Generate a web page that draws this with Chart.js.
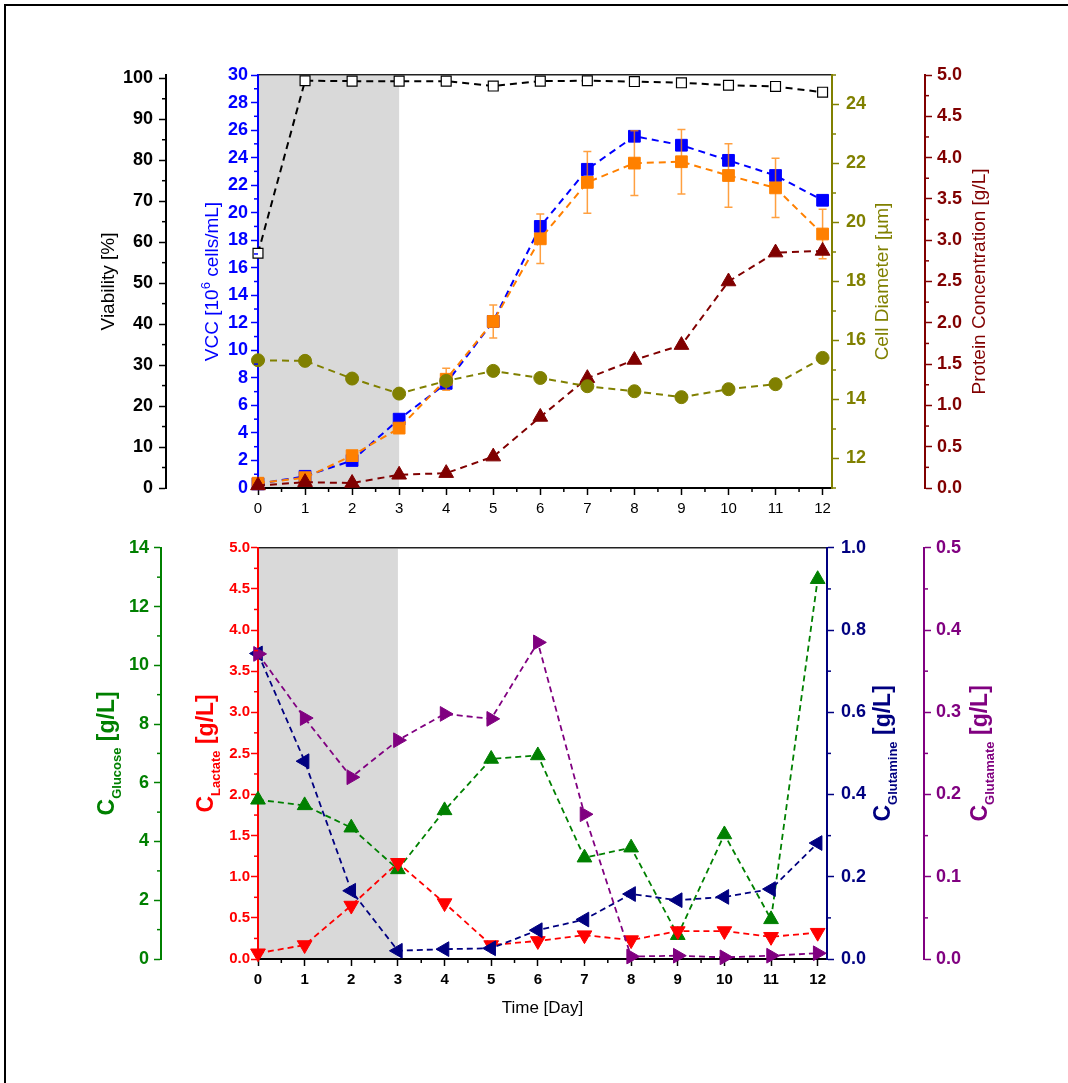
<!DOCTYPE html>
<html>
<head>
<meta charset="utf-8">
<script src="https://cdn.jsdelivr.net/npm/chart.js@4.4.1/dist/chart.umd.min.js"></script>
<style>
  body { margin: 0; background: #fff; width: 1068px; height: 1083px; overflow: hidden; position: relative; }
  #frame { position: absolute; left: 4px; top: 4px; width: 1200px; height: 1200px; border-top: 2px solid #000; border-left: 2px solid #000; }
  canvas { position: absolute; left: 0; }
  #top { top: 0; }
  #bottom { top: 530px; }
</style>
</head>
<body>
<div id="frame"></div>
<canvas id="top" width="1068" height="530"></canvas>
<canvas id="bottom" width="1068" height="553"></canvas>
<script>
// culture days
const days = [0, 1, 2, 3, 4, 5, 6, 7, 8, 9, 10, 11, 12]
const feedPhase = [0, 3]

// upper panel
const viability = [57.3, 99.4, 99.3, 99.3, 99.3, 98.1, 99.3, 99.4, 99.2, 98.9, 98.3, 98.0, 96.6]
const vccA = [0.3, 0.85, 2.0, 5.0, 7.6, 12.1, 19.0, 23.15, 25.55, 24.9, 23.8, 22.7, 20.9]
const vccB = [0.35, 0.75, 2.35, 4.35, 7.9, 12.1, 18.1, 22.2, 23.6, 23.7, 22.7, 21.8, 18.45]
const vccBErr = [0.1, 0.15, 0.2, 0.3, 0.8, 1.2, 1.8, 2.25, 2.35, 2.35, 2.3, 2.15, 1.8]
const cellDiameter = [15.33, 15.31, 14.71, 14.2, 14.63, 14.97, 14.73, 14.45, 14.28, 14.08, 14.35, 14.52, 15.41]
const protein = [0.03, 0.07, 0.06, 0.16, 0.18, 0.38, 0.86, 1.33, 1.55, 1.73, 2.5, 2.85, 2.87]

// lower panel
const glucose = [5.42, 5.23, 4.47, 3.05, 5.06, 6.81, 6.93, 3.45, 3.79, 0.81, 4.24, 1.35, 12.93]
const lactate = [0.07, 0.17, 0.65, 1.17, 0.68, 0.17, 0.22, 0.29, 0.23, 0.34, 0.34, 0.27, 0.32]
const glutamine = [0.743, 0.481, 0.166, 0.02, 0.024, 0.026, 0.07, 0.096, 0.158, 0.143, 0.151, 0.17, 0.282]
const glutamate = [0.371, 0.293, 0.221, 0.266, 0.298, 0.292, 0.385, 0.176, 0.003, 0.004, 0.002, 0.004, 0.007]

// axis ticks
const viabilityTicks = [0, 10, 20, 30, 40, 50, 60, 70, 80, 90, 100]
const vccTicks = [0, 2, 4, 6, 8, 10, 12, 14, 16, 18, 20, 22, 24, 26, 28, 30]
const diameterTicks = [12, 14, 16, 18, 20, 22, 24]
const proteinTicks = [0, 0.5, 1, 1.5, 2, 2.5, 3, 3.5, 4, 4.5, 5]
const glucoseTicks = [0, 2, 4, 6, 8, 10, 12, 14]
const lactateTicks = [0, 0.5, 1, 1.5, 2, 2.5, 3, 3.5, 4, 4.5, 5]
const glutamineTicks = [0, 0.2, 0.4, 0.6, 0.8, 1]
const glutamateTicks = [0, 0.1, 0.2, 0.3, 0.4, 0.5]

const FONT = 'Arial, "Liberation Sans", sans-serif'

function pts(arr) {
    return days.map((d, i) => ({ x: d, y: arr[i] }))
}

function series(arr, axis, color, style, radius, extra) {
    return Object.assign({
        data: pts(arr),
        yAxisID: axis,
        xAxisID: "x",
        borderColor: color,
        borderWidth: 2,
        borderDash: [7, 5],
        pointStyle: style,
        pointRadius: radius,
        pointBackgroundColor: color,
        pointBorderColor: color,
        pointBorderWidth: 1,
        tension: 0,
        fill: false,
        clip: false
    }, extra || {})
}

function yAxis(pos, weight, width, min, max, ticks, color, size, digits, pad) {
    return {
        type: "linear",
        position: pos,
        weight: weight,
        min: min,
        max: max,
        afterBuildTicks: s => { s.ticks = ticks.map(v => ({ value: v })) },
        afterFit: s => { s.width = width },
        ticks: {
            color: color,
            autoSkip: false,
            padding: pad,
            font: { family: FONT, size: size, weight: "bold" },
            callback: v => v.toFixed(digits)
        },
        grid: { drawOnChartArea: false, drawTicks: true, tickLength: 7, tickColor: color, tickWidth: 1.5 },
        border: { display: true, color: color, width: 2 }
    }
}

function xAxis(height, bold) {
    return {
        type: "linear",
        position: "bottom",
        min: 0,
        max: 12.2,
        afterBuildTicks: s => { s.ticks = days.map(v => ({ value: v })) },
        afterFit: s => { s.height = height },
        ticks: {
            color: "#000",
            autoSkip: false,
            maxRotation: 0,
            padding: 5,
            font: { family: FONT, size: 15, weight: bold ? "bold" : "normal" }
        },
        grid: { drawOnChartArea: false, drawTicks: true, tickLength: 7, tickColor: "#000", tickWidth: 1.5 },
        border: { display: true, color: "#000", width: 2 }
    }
}

const topBorder = {
    type: "linear",
    position: "top",
    afterFit: s => { s.height = 0 },
    ticks: { display: false },
    grid: { display: false },
    border: { display: true, color: "#222", width: 1.5 }
}

// grey band for the batch phase
const phaseShade = {
    id: "phaseShade",
    beforeDraw(chart) {
        const { ctx, chartArea } = chart
        const x = chart.scales.x
        const x0 = x.getPixelForValue(feedPhase[0])
        const x1 = x.getPixelForValue(feedPhase[1])
        ctx.save()
        ctx.fillStyle = "#d9d9d9"
        ctx.fillRect(x0, chartArea.top + 1, x1 - x0, chartArea.bottom - chartArea.top - 1)
        ctx.restore()
    }
}

// short ticks between the labelled ones
function minorTicks(axes) {
    return {
        id: "minorTicks",
        afterDraw(chart) {
            const ctx = chart.ctx
            ctx.save()
            ctx.lineWidth = 1.5
            axes.forEach(a => {
                const s = chart.scales[a.id]
                ctx.strokeStyle = a.color
                const n0 = Math.ceil(s.min / a.step - 1e-9)
                const n1 = Math.floor(s.max / a.step + 1e-9)
                for (let n = n0; n <= n1; n++) {
                    const v = n * a.step
                    if (s.ticks.some(t => Math.abs(t.value - v) < 1e-9)) continue
                    ctx.beginPath()
                    if (s.isHorizontal()) {
                        const px = s.getPixelForValue(v)
                        ctx.moveTo(px, s.top)
                        ctx.lineTo(px, s.top + 4)
                    } else {
                        const py = s.getPixelForValue(v)
                        const ax = s.position === "left" ? s.right : s.left
                        const dir = s.position === "left" ? -1 : 1
                        ctx.moveTo(ax, py)
                        ctx.lineTo(ax + dir * 4, py)
                    }
                    ctx.stroke()
                }
            })
            ctx.restore()
        }
    }
}

// error bars, painted just before their own series
function errorBars(index, err, color) {
    return {
        id: "errorBars",
        beforeDatasetDraw(chart, args) {
            if (args.index !== index) return
            const ctx = chart.ctx
            const ds = chart.data.datasets[index]
            const x = chart.scales.x
            const y = chart.scales[ds.yAxisID]
            ctx.save()
            ctx.strokeStyle = color
            ctx.lineWidth = 1.5
            ds.data.forEach((p, i) => {
                const px = x.getPixelForValue(p.x)
                const hi = y.getPixelForValue(p.y + err[i])
                const lo = y.getPixelForValue(p.y - err[i])
                ctx.beginPath()
                ctx.moveTo(px, hi); ctx.lineTo(px, lo)
                ctx.moveTo(px - 4, hi); ctx.lineTo(px + 4, hi)
                ctx.moveTo(px - 4, lo); ctx.lineTo(px + 4, lo)
                ctx.stroke()
            })
            ctx.restore()
        }
    }
}

// rotated axis titles with sub/superscripts
function axisTitles(titles, xTitle) {
    return {
        id: "axisTitles",
        afterDraw(chart) {
            const { ctx, chartArea } = chart
            const cy = (chartArea.top + chartArea.bottom) / 2
            titles.forEach(t => {
                const s = chart.scales[t.axis]
                const ax = s.position === "left" ? s.right : s.left
                ctx.save()
                ctx.fillStyle = t.color
                ctx.translate(ax + t.offset, cy)
                ctx.rotate(-Math.PI / 2)
                ctx.textBaseline = "alphabetic"
                ctx.textAlign = "left"
                const widths = t.parts.map(p => {
                    ctx.font = p.font
                    return ctx.measureText(p.text).width
                })
                let pos = -widths.reduce((a, b) => a + b, 0) / 2
                t.parts.forEach((p, i) => {
                    ctx.font = p.font
                    ctx.fillText(p.text, pos, p.dy || 0)
                    pos += widths[i]
                })
                ctx.restore()
            })
            if (xTitle) {
                ctx.save()
                ctx.fillStyle = "#000"
                ctx.font = xTitle.font
                ctx.textAlign = "center"
                ctx.textBaseline = "middle"
                ctx.fillText(xTitle.text, (chartArea.left + chartArea.right) / 2, chartArea.bottom + xTitle.offset)
                ctx.restore()
            }
        }
    }
}

const reg = "19px " + FONT
const big = "bold 23px " + FONT
const sub = "bold 13px " + FONT

new Chart(document.getElementById("top"), {
    type: "line",
    data: {
        datasets: [
            series(cellDiameter, "yDia", "#808000", "circle", 6.5),
            series(protein, "yProt", "#800000", "triangle", 8.5),
            series(vccB, "yVcc", "#ff8000", "rect", 8.3),
            series(vccA, "yVcc", "#0000ff", "rect", 8.3),
            series(viability, "yVia", "#000000", "rect", 7, { pointBackgroundColor: "#fff", pointBorderWidth: 1.2 })
        ]
    },
    options: {
        responsive: false,
        animation: false,
        layout: { padding: { top: 75, left: 0, right: 0, bottom: 0 } },
        scales: {
            x: xAxis(42, false),
            xTop: topBorder,
            yVia: yAxis("left", 1, 166, 0, 100.8, viabilityTicks, "#000", 18, 0, 6),
            yVcc: yAxis("left", 0, 92, 0, 30, vccTicks, "#0000ff", 18, 0, 3),
            yDia: yAxis("right", 0, 93, 11, 25, diameterTicks, "#808000", 18, 0, 7),
            yProt: yAxis("right", 1, 143, 0, 5, proteinTicks, "#800000", 18, 1, 5)
        },
        plugins: {
            legend: { display: false },
            tooltip: { enabled: false }
        }
    },
    plugins: [
        phaseShade,
        errorBars(2, vccBErr, "rgba(255,128,0,0.75)"),
        minorTicks([
            { id: "x", step: 0.5, color: "#000" },
            { id: "yVia", step: 5, color: "#000" },
            { id: "yVcc", step: 1, color: "#0000ff" },
            { id: "yDia", step: 1, color: "#808000" },
            { id: "yProt", step: 0.25, color: "#800000" }
        ]),
        axisTitles([
            { axis: "yVia", offset: -52, color: "#000", parts: [{ text: "Viability [%]", font: reg }] },
            { axis: "yVcc", offset: -40, color: "#0000ff", parts: [
                { text: "VCC [10", font: reg },
                { text: "6", font: "13px " + FONT, dy: -8 },
                { text: " cells/mL]", font: reg }
            ] },
            { axis: "yDia", offset: 56, color: "#808000", parts: [{ text: "Cell Diameter [µm]", font: reg }] },
            { axis: "yProt", offset: 60, color: "#800000", parts: [{ text: "Protein Concentration [g/L]", font: reg }] }
        ])
    ]
})

function metabolite(arr, axis, color, rotation) {
    return series(arr, axis, color, "triangle", 8.5, { pointRotation: rotation, borderWidth: 1.8, borderDash: [6, 4] })
}

function conc(name) {
    return [{ text: "C", font: big }, { text: name, font: sub, dy: 7 }, { text: " [g/L]", font: big }]
}

new Chart(document.getElementById("bottom"), {
    type: "line",
    data: {
        datasets: [
            metabolite(glutamate, "yGlu", "#800080", 90),
            metabolite(glutamine, "yGln", "#000080", 270),
            metabolite(lactate, "yLac", "#ff0000", 180),
            metabolite(glucose, "yGlc", "#008000", 0)
        ]
    },
    options: {
        responsive: false,
        animation: false,
        layout: { padding: { top: 17, left: 0, right: 0, bottom: 0 } },
        scales: {
            x: xAxis(124, true),
            xTop: topBorder,
            yGlc: yAxis("left", 1, 161, 0, 14, glucoseTicks, "#008000", 18, 0, 5),
            yLac: yAxis("left", 0, 97, 0, 5, lactateTicks, "#ff0000", 15, 1, 1),
            yGln: yAxis("right", 0, 97, 0, 1, glutamineTicks, "#000080", 18, 1, 7),
            yGlu: yAxis("right", 1, 144, 0, 0.5, glutamateTicks, "#800080", 18, 1, 5)
        },
        plugins: {
            legend: { display: false },
            tooltip: { enabled: false }
        }
    },
    plugins: [
        phaseShade,
        minorTicks([
            { id: "x", step: 0.5, color: "#000" },
            { id: "yGlc", step: 1, color: "#008000" },
            { id: "yLac", step: 0.25, color: "#ff0000" },
            { id: "yGln", step: 0.1, color: "#000080" },
            { id: "yGlu", step: 0.05, color: "#800080" }
        ]),
        axisTitles([
            { axis: "yGlc", offset: -47.5, color: "#008000", parts: conc("Glucose") },
            { axis: "yLac", offset: -45, color: "#ff0000", parts: conc("Lactate") },
            { axis: "yGln", offset: 63, color: "#000080", parts: conc("Glutamine") },
            { axis: "yGlu", offset: 63, color: "#800080", parts: conc("Glutamate") }
        ], { text: "Time [Day]", font: "17px " + FONT, offset: 49 })
    ]
})
</script>
</body>
</html>
